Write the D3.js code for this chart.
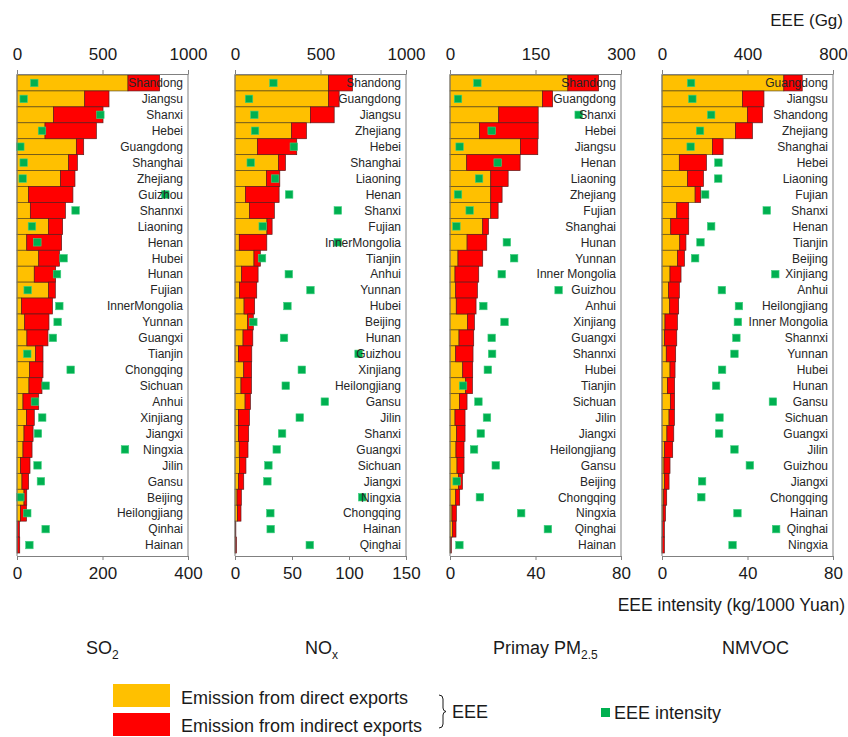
<!DOCTYPE html>
<html>
<head>
<meta charset="utf-8">
<script src="https://cdn.jsdelivr.net/npm/d3@7"></script>
<style>
  html, body { margin: 0; padding: 0; background: #fff; }
  svg { display: block; font-family: Arial, "Liberation Sans", sans-serif; }
</style>
</head>
<body>
<svg id="chart" width="848" height="737"></svg>
<script>
// ---------------- DATA ----------------
const so2Provinces = ["Shandong","Jiangsu","Shanxi","Hebei","Guangdong","Shanghai","Zhejiang","Guizhou","Shannxi","Liaoning","Henan","Hubei","Hunan","Fujian","InnerMongolia","Yunnan","Guangxi","Tianjin","Chongqing","Sichuan","Anhui","Xinjiang","Jiangxi","Ningxia","Jilin","Gansu","Beijing","Heilongjiang","Qinhai","Hainan"];
const so2Direct   = [649,396,214,164,347,302,255,68,78,185,57,127,101,185,27,45,58,109,74,70,35,55,41,35,21,29,41,21,2,2];
const so2Indirect = [185,142,289,300,43,51,84,259,205,82,204,121,125,39,180,142,123,43,78,76,92,46,53,53,55,39,16,34,12,14];
const so2Intensity = [40.5,15.6,195,58.5,7.8,15.6,13.3,347,137,35,47.6,109,93.6,25,99,95,84,24,125.5,67,42,59,49,252.6,48,56,7.8,24,67,29];

const noxProvinces = ["Shandong","Guangdong","Jiangsu","Zhejiang","Hebei","Shanghai","Liaoning","Henan","Shanxi","Fujian","InnerMongolia","Tianjin","Anhui","Yunnan","Hubei","Beijing","Hunan","Guizhou","Xinjiang","Heilongjiang","Gansu","Jilin","Shanxi","Guangxi","Sichuan","Jiangxi","Ningxia","Chongqing","Hainan","Qinghai"];
const noxDirect   = [547,547,441,330,131,254,184,61,84,187,25,111,39,27,53,74,47,20,51,35,59,20,20,25,27,20,12,14,2,2];
const noxIndirect = [140,62,139,88,230,41,78,197,146,30,161,37,96,100,62,33,57,78,46,61,31,64,60,51,37,31,25,21,3,6];
const noxIntensity = [33.7,12.3,17,17.6,51.6,13.8,35.2,47.5,90.2,24.3,90.2,23.7,47.2,66.2,46,16.1,43,108.4,58.6,44.5,78.8,56.8,41.3,36.6,29.3,28.4,111.6,31,31.3,65.6];

const pmProvinces = ["Shandong","Guangdong","Shanxi","Hebei","Jiangsu","Henan","Liaoning","Zhejiang","Fujian","Shanghai","Hunan","Yunnan","Inner Mongolia","Guizhou","Anhui","Xinjiang","Guangxi","Shannxi","Hubei","Tianjin","Sichuan","Jilin","Jiangxi","Heilongjiang","Gansu","Beijing","Chongqing","Ningxia","Qinghai","Hainan"];
const pmDirect   = [206.8,162.3,85.5,51.6,123.6,29.3,71.5,71.5,71.5,57.4,30,14,8.8,10,11,30.5,15.8,10,22.3,27.5,16.4,8.8,11.7,10.5,12.3,15.2,10,3.5,4.7,1.2];
const pmIndirect = [53.9,17.7,69.2,103.1,30.4,93.7,30.5,19.9,12.9,10,34.5,43.4,41.6,38,34.7,12.3,25.8,30.4,17.5,11.8,13.5,17.6,14.7,14.1,12.3,6.5,7,7.6,5.8,1.1];
const pmIntensity = [12.8,3.75,60.2,19.5,4.5,22.3,13.6,3.75,9.2,3,26.6,30,24.2,50.8,15.6,25.5,19.5,19.7,17.7,6.1,13.3,17.3,14.4,11.25,21.4,3.1,14,33.3,45.8,4.4];

const vocProvinces = ["Guangdong","Jiangsu","Shandong","Zhejiang","Shanghai","Hebei","Liaoning","Fujian","Shanxi","Henan","Tianjin","Beijing","Xinjiang","Anhui","Heilongjiang","Inner Mongolia","Shannxi","Yunnan","Hubei","Hunan","Gansu","Sichuan","Guangxi","Jilin","Guizhou","Jiangxi","Chongqing","Hainan","Qinghai","Ningxia"];
const vocDirect   = [570,377,400,344,236,81,120,155,69,41,83,73,37.5,31,36,14,12.5,20,37.5,25,39,33,23,12.5,9.4,12.5,8,5,2,0.5];
const vocIndirect = [86,100,70,79,50,127,74,26,56,84,29,32,51.5,50,42,58,56.5,44,23.5,34,20,25,32,37.5,28.1,20.5,14,11,9,10.5];
const vocIntensity = [13.6,14.2,23,17.8,13.4,26.4,26.3,20.2,49,23,18,15.5,53,28,36,35.5,34.8,33.9,28.1,25.3,51.9,26.9,26.7,33.9,41.1,18.75,18.4,35.3,53.4,33];

const eeeTicks = [[0,500,1000],[0,500,1000],[0,150,300],[0,400,800]];
const intensityTicks = [[0,200,400],[0,50,100,150],[0,40,80],[0,40,80]];
const titles = [["SO","2"],["NO","x"],["Primay PM","2.5"],["NMVOC",""]];

const panels = [
  {prov: so2Provinces, direct: so2Direct, indirect: so2Indirect, intensity: so2Intensity},
  {prov: noxProvinces, direct: noxDirect, indirect: noxIndirect, intensity: noxIntensity},
  {prov: pmProvinces,  direct: pmDirect,  indirect: pmIndirect,  intensity: pmIntensity},
  {prov: vocProvinces, direct: vocDirect, indirect: vocIndirect, intensity: vocIntensity}
];

// ---------------- LAYOUT ----------------
const svg = d3.select("#chart");
const panelLeft = [17, 235, 450, 662];
const panelW = 171;
const axisTopY = 74, axisBotY = 556;
const bandTop = 75, bandBot = 553;
const YELLOW = "#FFC000", RED = "#FF0000", GREEN = "#00B050";
const FRAME = "#808080";

panels.forEach((p, i) => {
  const x0 = panelLeft[i], x1 = x0 + panelW;
  const tk = eeeTicks[i], itk = intensityTicks[i];
  const xE = d3.scaleLinear().domain([0, tk[tk.length-1]]).range([x0, x1]);
  const xI = d3.scaleLinear().domain([0, itk[itk.length-1]]).range([x0, x1]);
  const y = d3.scaleBand().domain(d3.range(p.prov.length)).range([bandTop, bandBot]).padding(0);
  const g = svg.append("g");

  // bars: direct
  g.selectAll("rect.direct").data(p.direct).join("rect")
    .attr("class","direct")
    .attr("x", xE(0))
    .attr("y", (d, k) => y(k))
    .attr("width", d => xE(d) - xE(0))
    .attr("height", y.bandwidth())
    .attr("fill", YELLOW)
    .attr("stroke", "#5c4a1a").attr("stroke-width", 0.7);
  // bars: indirect
  g.selectAll("rect.indirect").data(p.indirect).join("rect")
    .attr("class","indirect")
    .attr("x", (d, k) => xE(p.direct[k]))
    .attr("y", (d, k) => y(k))
    .attr("width", (d, k) => xE(p.direct[k] + d) - xE(p.direct[k]))
    .attr("height", y.bandwidth())
    .attr("fill", RED)
    .attr("stroke", "#5c1a1a").attr("stroke-width", 0.7);

  // intensity squares
  const s = 7.5;
  g.selectAll("rect.int").data(p.intensity).join("rect")
    .attr("class","int")
    .attr("x", d => xI(d) - s/2)
    .attr("y", (d, k) => y(k) + y.bandwidth()/2 - s/2)
    .attr("width", s).attr("height", s)
    .attr("fill", GREEN)
    .attr("stroke", "#3fd07f").attr("stroke-width", 0.6);

  // province labels
  g.selectAll("text.prov").data(p.prov).join("text")
    .attr("class","prov")
    .attr("x", x1 - 5)
    .attr("y", (d, k) => y(k) + y.bandwidth()/2)
    .attr("dy", "0.36em")
    .attr("text-anchor", "end")
    .attr("font-size", 12)
    .attr("fill", "#262626")
    .text(d => d);

  // frame: right vertical line
  g.append("line").attr("x1", x1).attr("x2", x1).attr("y1", axisTopY).attr("y2", axisBotY)
    .attr("stroke", FRAME).attr("stroke-width", 1);
  // left vertical line
  g.append("line").attr("x1", x0).attr("x2", x0).attr("y1", axisTopY).attr("y2", axisBotY)
    .attr("stroke", FRAME).attr("stroke-width", 1);

  // top axis (EEE)
  const aTop = g.append("g").attr("transform", `translate(0,${axisTopY})`)
    .call(d3.axisTop(xE).tickValues(tk).tickFormat(d3.format("d")).tickSize(4).tickPadding(10).tickSizeOuter(0));
  // bottom axis (intensity)
  const aBot = g.append("g").attr("transform", `translate(0,${axisBotY})`)
    .call(d3.axisBottom(xI).tickValues(itk).tickFormat(d3.format("d")).tickSize(4).tickPadding(7).tickSizeOuter(0));
  [aTop, aBot].forEach(a => {
    a.select(".domain").attr("stroke", FRAME);
    a.selectAll(".tick line").attr("stroke", FRAME);
    a.selectAll(".tick text").attr("font-size", 17).attr("fill", "#1a1a1a")
      .attr("font-family", "Arial, 'Liberation Sans', sans-serif");
  });
});

// axis titles
svg.append("text").attr("x", 843).attr("y", 26).attr("text-anchor", "end")
  .attr("font-size", 17).attr("fill", "#1a1a1a").text("EEE (Gg)");
svg.append("text").attr("x", 845).attr("y", 611).attr("text-anchor", "end")
  .attr("font-size", 17.5).attr("fill", "#1a1a1a").text("EEE intensity (kg/1000 Yuan)");

// panel titles
const titleX = [86, 305, 493, 722];
titles.forEach((t, i) => {
  const tx = svg.append("text").attr("x", titleX[i]).attr("y", 654)
    .attr("font-size", 18).attr("fill", "#1a1a1a");
  tx.append("tspan").text(t[0]);
  if (t[1]) tx.append("tspan").attr("dy", 5).attr("font-size", 12).text(t[1]);
});

// legend
svg.append("rect").attr("x", 113).attr("y", 684).attr("width", 57).attr("height", 23).attr("fill", YELLOW);
svg.append("rect").attr("x", 113).attr("y", 713).attr("width", 57).attr("height", 23).attr("fill", RED);
svg.append("text").attr("x", 181).attr("y", 704).attr("font-size", 18).attr("fill", "#1a1a1a").text("Emission from direct exports");
svg.append("text").attr("x", 181).attr("y", 732).attr("font-size", 18).attr("fill", "#1a1a1a").text("Emission from indirect exports");
// brace
svg.append("path")
  .attr("d", "M439,695 Q443,695 443,699 L443,708 Q443,711 446,711.5 Q443,712 443,715 L443,724 Q443,728 439,728")
  .attr("fill", "none").attr("stroke", "#1a1a1a").attr("stroke-width", 1);
svg.append("text").attr("x", 452).attr("y", 718).attr("font-size", 18).attr("fill", "#1a1a1a").text("EEE");
svg.append("rect").attr("x", 601).attr("y", 708).attr("width", 9).attr("height", 9).attr("fill", GREEN);
svg.append("text").attr("x", 614).attr("y", 719).attr("font-size", 18).attr("fill", "#1a1a1a").text("EEE intensity");
</script>
</body>
</html>
